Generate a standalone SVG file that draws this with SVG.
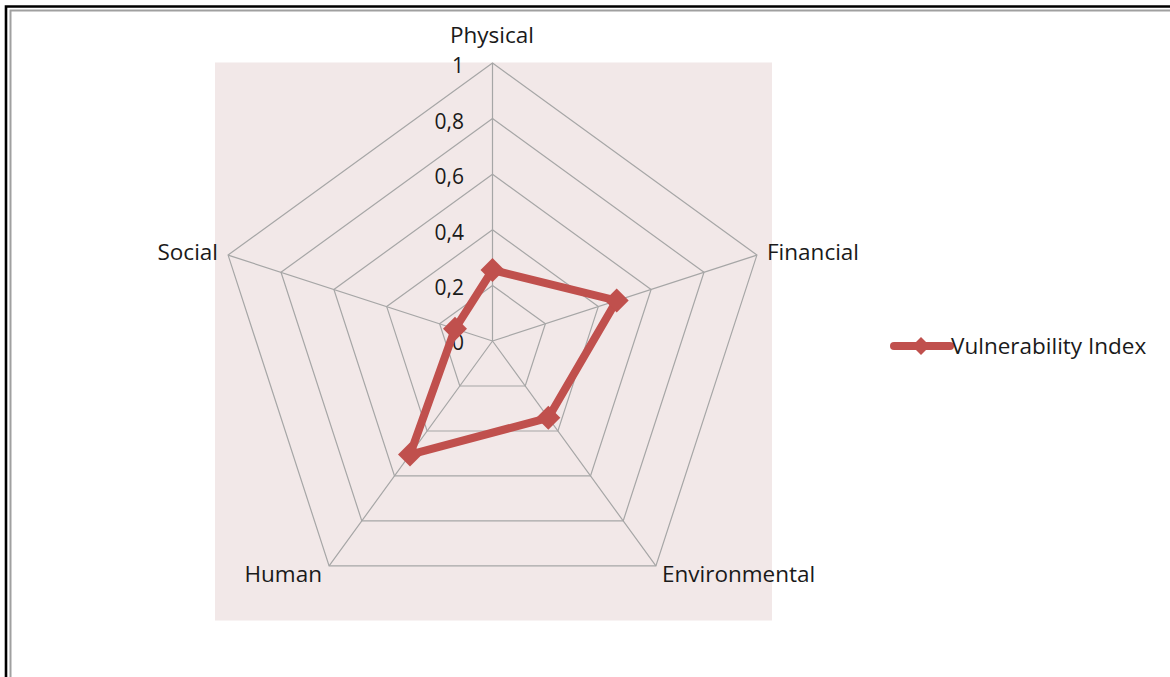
<svg xmlns="http://www.w3.org/2000/svg" width="1170" height="677" viewBox="0 0 1170 677">
<style>
.grid{fill:none;stroke:#a6a6a6;stroke-width:1.2}
.lbl{font-family:"Open Sans","Liberation Sans",sans-serif;font-size:22.5px;fill:#1a1a1a}
.tick{font-family:"Open Sans","Liberation Sans",sans-serif;font-size:21px;fill:#1a1a1a;text-anchor:end}
.series{fill:none;stroke:#c0504d;stroke-width:8;stroke-linejoin:round}
.mk{fill:#c0504d}
</style>
<defs>
<path id="dia" d="M0,-12 L12,0 L0,12 L-12,0 Z"/>
<path id="dia-s" d="M0,-9 L9,0 L0,9 L-9,0 Z"/>
</defs>
<rect x="0" y="0" width="1170" height="677" fill="#ffffff"/>
<g id="frame">
<path d="M6,677 V6.5 H1170" fill="none" stroke="#000" stroke-width="2.6"/>
<path d="M10.5,677 V10.5 H1170" fill="none" stroke="#a0a0a0" stroke-width="2"/>
</g>
<g id="plot-area">
<rect x="215" y="62.5" width="557" height="558" fill="#f2e8e8"/>
</g>
<g id="grid">
<polygon class="grid" points="492.5,285.4 545.4,323.8 525.2,386.0 459.8,386.0 439.6,323.8"/>
<polygon class="grid" points="492.5,229.8 598.3,306.6 557.9,431.0 427.1,431.0 386.7,306.6"/>
<polygon class="grid" points="492.5,174.2 651.1,289.5 590.5,475.9 394.5,475.9 333.9,289.5"/>
<polygon class="grid" points="492.5,118.6 704.0,272.3 623.2,520.9 361.8,520.9 281.0,272.3"/>
<polygon class="grid" points="492.5,63 756.9,255.1 655.9,565.9 329.1,565.9 228.1,255.1"/>
<path class="grid" d="M492.5,341 L492.5,63 M492.5,341 L756.9,255.1 M492.5,341 L655.9,565.9 M492.5,341 L329.1,565.9 M492.5,341 L228.1,255.1"/>
</g>
<g id="ticks">
<text class="tick" x="464" y="73">1</text>
<text class="tick" x="464" y="129">0,8</text>
<text class="tick" x="464" y="184">0,6</text>
<text class="tick" x="464" y="240">0,4</text>
<text class="tick" x="464" y="295">0,2</text>
<text class="tick" x="464" y="350">0</text>
</g>
<g id="axis-labels">
<text id="physical" class="lbl" x="492" y="43" text-anchor="middle">Physical</text>
<text id="financial" class="lbl" x="767" y="260">Financial</text>
<text id="environmental" class="lbl" x="662" y="582">Environmental</text>
<text id="human" class="lbl" x="322" y="582" text-anchor="end">Human</text>
<text id="social" class="lbl" x="218" y="260" text-anchor="end">Social</text>
</g>
<g id="series">
<polygon class="series" points="492.5,270 616.7,300.6 548.3,417.8 410,454.6 455,328.8"/>
<use href="#dia" class="mk" x="492.5" y="270"/>
<use href="#dia" class="mk" x="616.7" y="300.6"/>
<use href="#dia" class="mk" x="548.3" y="417.8"/>
<use href="#dia" class="mk" x="410" y="454.6"/>
<use href="#dia" class="mk" x="455" y="328.8"/>
</g>
<g id="legend">
<line x1="894" y1="346" x2="950" y2="346" stroke="#c0504d" stroke-width="8" stroke-linecap="round"/>
<use href="#dia-s" class="mk" x="921" y="346"/>
<text class="lbl" x="951" y="354">Vulnerability Index</text>
</g>
</svg>
